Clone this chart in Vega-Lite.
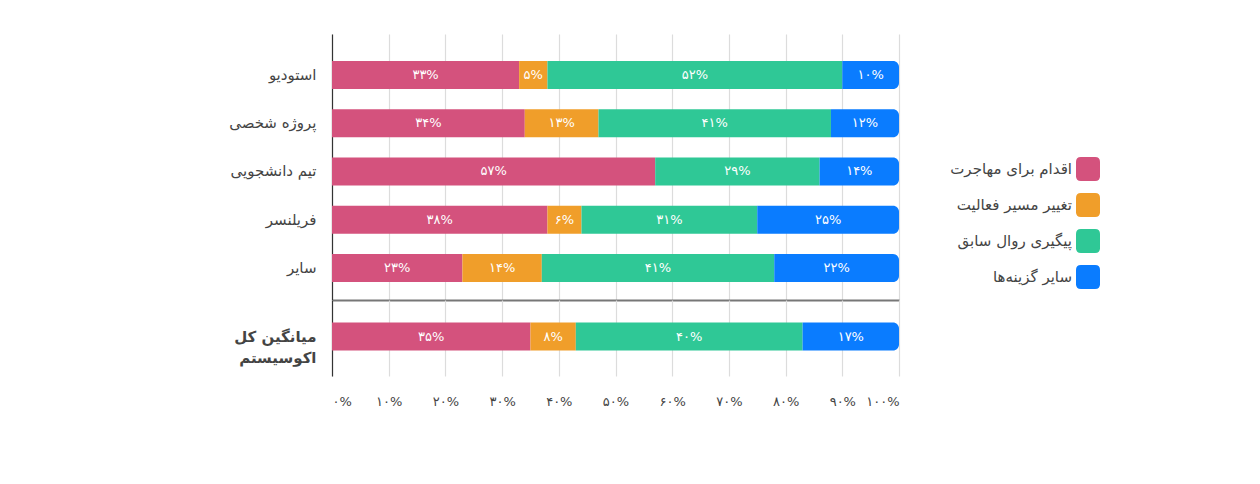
{
  "$schema": "https://vega.github.io/schema/vega-lite/v6.json",
  "background": "white",
  "padding": {"left": 228, "top": 34, "right": 5, "bottom": 5},
  "config": {
    "font": "DejaVu Sans",
    "view": {"stroke": null},
    "concat": {"spacing": 0},
    "axis": {"title": null, "ticks": false, "labelColor": "#444", "gridColor": "#dcdcdc", "gridWidth": 1.2}
  },
  "data": {
    "values": [
      {"group": "استودیو", "cat": "اقدام برای مهاجرت", "o": 1, "value": 33, "label": "۳۳%"},
      {"group": "استودیو", "cat": "تغییر مسیر فعالیت", "o": 2, "value": 5, "label": "۵%"},
      {"group": "استودیو", "cat": "پیگیری روال سابق", "o": 3, "value": 52, "label": "۵۲%"},
      {"group": "استودیو", "cat": "سایر گزینه‌ها", "o": 4, "value": 10, "label": "۱۰%"},
      {"group": "پروژه شخصی", "cat": "اقدام برای مهاجرت", "o": 1, "value": 34, "label": "۳۴%"},
      {"group": "پروژه شخصی", "cat": "تغییر مسیر فعالیت", "o": 2, "value": 13, "label": "۱۳%"},
      {"group": "پروژه شخصی", "cat": "پیگیری روال سابق", "o": 3, "value": 41, "label": "۴۱%"},
      {"group": "پروژه شخصی", "cat": "سایر گزینه‌ها", "o": 4, "value": 12, "label": "۱۲%"},
      {"group": "تیم دانشجویی", "cat": "اقدام برای مهاجرت", "o": 1, "value": 57, "label": "۵۷%"},
      {"group": "تیم دانشجویی", "cat": "پیگیری روال سابق", "o": 3, "value": 29, "label": "۲۹%"},
      {"group": "تیم دانشجویی", "cat": "سایر گزینه‌ها", "o": 4, "value": 14, "label": "۱۴%"},
      {"group": "فریلنسر", "cat": "اقدام برای مهاجرت", "o": 1, "value": 38, "label": "۳۸%"},
      {"group": "فریلنسر", "cat": "تغییر مسیر فعالیت", "o": 2, "value": 6, "label": "۶%"},
      {"group": "فریلنسر", "cat": "پیگیری روال سابق", "o": 3, "value": 31, "label": "۳۱%"},
      {"group": "فریلنسر", "cat": "سایر گزینه‌ها", "o": 4, "value": 25, "label": "۲۵%"},
      {"group": "سایر", "cat": "اقدام برای مهاجرت", "o": 1, "value": 23, "label": "۲۳%"},
      {"group": "سایر", "cat": "تغییر مسیر فعالیت", "o": 2, "value": 14, "label": "۱۴%"},
      {"group": "سایر", "cat": "پیگیری روال سابق", "o": 3, "value": 41, "label": "۴۱%"},
      {"group": "سایر", "cat": "سایر گزینه‌ها", "o": 4, "value": 22, "label": "۲۲%"},
      {"group": "میانگین کل اکوسیستم", "cat": "اقدام برای مهاجرت", "o": 1, "value": 35, "label": "۳۵%"},
      {"group": "میانگین کل اکوسیستم", "cat": "تغییر مسیر فعالیت", "o": 2, "value": 8, "label": "۸%"},
      {"group": "میانگین کل اکوسیستم", "cat": "پیگیری روال سابق", "o": 3, "value": 40, "label": "۴۰%"},
      {"group": "میانگین کل اکوسیستم", "cat": "سایر گزینه‌ها", "o": 4, "value": 17, "label": "۱۷%"}
    ]
  },
  "vconcat": [
    {
      "width": 567,
      "height": 266,
      "transform": [{"filter": "datum.group != 'میانگین کل اکوسیستم'"}],
      "encoding": {
        "y": {
          "field": "group", "type": "nominal", "sort": null,
          "scale": {"paddingInner": 0.42, "paddingOuter": 0.466, "align": 0.6},
          "axis": {"labelFontSize": 15, "labelPadding": 16, "domainColor": "#333", "domainWidth": 1.2}
        }
      },
      "layer": [
        {
          "transform": [
            {"stack": "value", "groupby": ["group"], "sort": [{"field": "o"}], "as": ["x0", "x1"]},
            {"filter": "datum.o != 4"}
          ],
          "mark": {"type": "bar"},
          "encoding": {
            "x": {
              "field": "x0", "type": "quantitative",
              "scale": {"domain": [0, 100]},
              "axis": {"values": [0, 10, 20, 30, 40, 50, 60, 70, 80, 90, 100], "labels": false, "grid": true, "domainColor": "#777", "domainWidth": 2}
            },
            "x2": {"field": "x1"},
            "color": {
              "field": "cat", "type": "nominal",
              "scale": {
                "domain": ["اقدام برای مهاجرت", "تغییر مسیر فعالیت", "پیگیری روال سابق", "سایر گزینه‌ها"],
                "range": ["#D4527D", "#F09E2A", "#2FC896", "#0A7CFF"]
              },
              "legend": {
                "title": null,
                "orient": "none",
                "legendX": 744,
                "legendY": 123,
                "symbolType": "M-1,-0.6 Q-1,-1 -0.6,-1 L0.6,-1 Q1,-1 1,-0.6 L1,0.6 Q1,1 0.6,1 L-0.6,1 Q-1,1 -1,0.6 Z",
                "symbolSize": 576,
                "symbolStrokeWidth": 0,
                "symbolOpacity": 1,
                "labelAlign": "right",
                "labelOffset": -28,
                "labelFontSize": 15,
                "labelColor": "#444",
                "rowPadding": 12
              }
            }
          }
        },
        {
          "transform": [
            {"stack": "value", "groupby": ["group"], "sort": [{"field": "o"}], "as": ["x0", "x1"]},
            {"filter": "datum.o == 4"}
          ],
          "mark": {"type": "bar", "cornerRadiusTopRight": 6, "cornerRadiusBottomRight": 6},
          "encoding": {
            "x": {"field": "x0", "type": "quantitative"},
            "x2": {"field": "x1"},
            "color": {"field": "cat", "type": "nominal"}
          }
        },
        {
          "mark": {"type": "text", "color": "white", "fontSize": 13},
          "encoding": {
            "x": {"field": "value", "type": "quantitative", "stack": "zero", "bandPosition": 0.5},
            "order": {"field": "o"},
            "text": {"field": "label"}
          }
        }
      ]
    },
    {
      "width": 567,
      "height": 76,
      "transform": [{"filter": "datum.group == 'میانگین کل اکوسیستم'"}],
      "encoding": {
        "y": {
          "field": "group", "type": "nominal",
          "scale": {"paddingInner": 0.42, "paddingOuter": 0.497, "align": 0.47},
          "axis": {
            "labelFontSize": 15, "labelFontWeight": "bold", "labelPadding": 16, "labelLineHeight": 21,
            "labelExpr": "['میانگین کل', 'اکوسیستم']",
            "domainColor": "#333", "domainWidth": 1.2
          }
        }
      },
      "layer": [
        {
          "transform": [
            {"stack": "value", "groupby": ["group"], "sort": [{"field": "o"}], "as": ["x0", "x1"]},
            {"filter": "datum.o != 4"}
          ],
          "mark": {"type": "bar"},
          "encoding": {
            "x": {
              "field": "x0", "type": "quantitative",
              "scale": {"domain": [0, 100]},
              "axis": {
                "values": [0, 10, 20, 30, 40, 50, 60, 70, 80, 90, 100], "grid": true, "domain": false,
                "labelPadding": 19, "labelFontSize": 13,
                "labelExpr": "['۰%', '۱۰%', '۲۰%', '۳۰%', '۴۰%', '۵۰%', '۶۰%', '۷۰%', '۸۰%', '۹۰%', '۱۰۰%'][round(datum.value / 10)]"
              }
            },
            "x2": {"field": "x1"},
            "color": {"field": "cat", "type": "nominal"}
          }
        },
        {
          "transform": [
            {"stack": "value", "groupby": ["group"], "sort": [{"field": "o"}], "as": ["x0", "x1"]},
            {"filter": "datum.o == 4"}
          ],
          "mark": {"type": "bar", "cornerRadiusTopRight": 6, "cornerRadiusBottomRight": 6},
          "encoding": {
            "x": {"field": "x0", "type": "quantitative"},
            "x2": {"field": "x1"},
            "color": {"field": "cat", "type": "nominal"}
          }
        },
        {
          "mark": {"type": "text", "color": "white", "fontSize": 13},
          "encoding": {
            "x": {"field": "value", "type": "quantitative", "stack": "zero", "bandPosition": 0.5},
            "order": {"field": "o"},
            "text": {"field": "label"}
          }
        }
      ]
    }
  ],
  "resolve": {"scale": {"y": "independent", "x": "shared", "color": "shared"}}
}
